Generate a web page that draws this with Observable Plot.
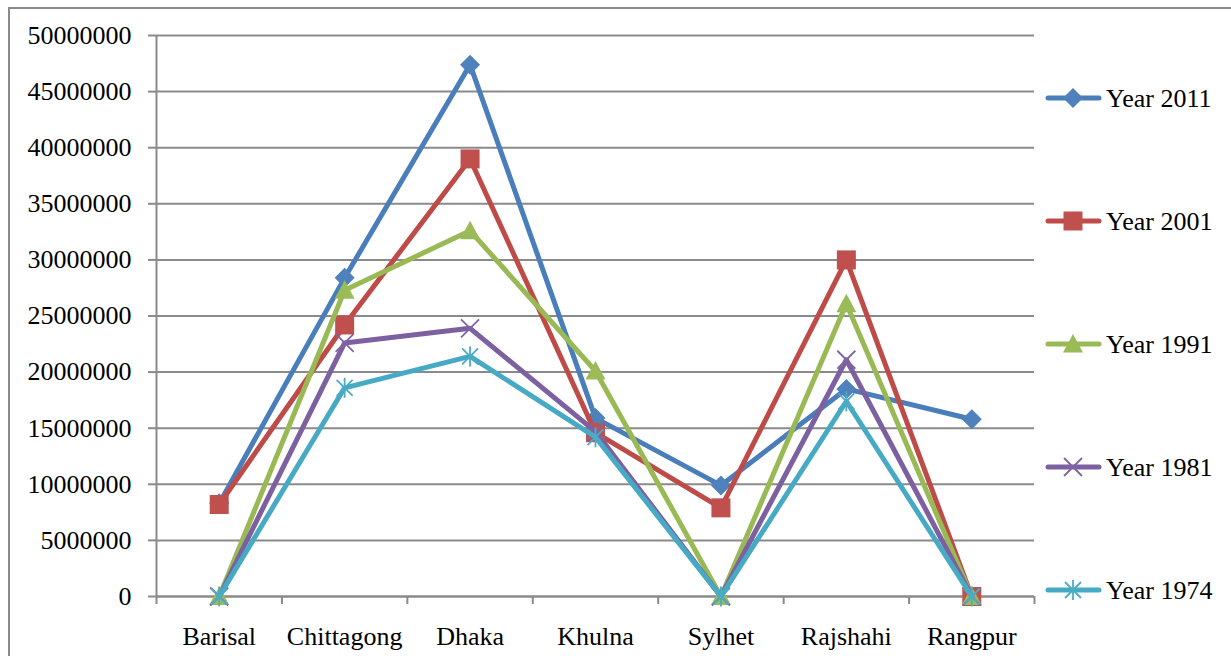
<!DOCTYPE html>
<html>
<head>
<meta charset="utf-8">
<script src="https://cdn.jsdelivr.net/npm/d3@7"></script>
<script src="https://cdn.jsdelivr.net/npm/@observablehq/plot@0.6"></script>
<style>
  html, body { margin: 0; padding: 0; background: #fff; overflow: hidden; }
  #wrap { position: relative; width: 1231px; height: 656px; }
  #frame { position: absolute; left: 8px; top: 7px; width: 1300px; height: 700px;
           border-left: 2px solid #8a8a8a; border-top: 2px solid #8a8a8a; }
  #chart, #legend { position: absolute; left: 0; top: 0; }
  #chart svg, #chart svg text, #legend text { font-family: "Liberation Serif", "Times New Roman", serif !important; font-size: 26px !important; }
</style>
</head>
<body>
<div id="wrap"><div id="frame"></div><div id="chart"></div><svg id="legend" width="1231" height="656"></svg></div>
<script>
// ---- data ----
const categories = ["Barisal", "Chittagong", "Dhaka", "Khulna", "Sylhet", "Rajshahi", "Rangpur"];
const seriesNames = ["Year 2011", "Year 2001", "Year 1991", "Year 1981", "Year 1974"];
const year2011 = [8300000, 28400000, 47400000, 15900000, 9900000, 18500000, 15800000];
const year2001 = [8200000, 24200000, 39000000, 14600000, 7900000, 30000000, 0];
const year1991 = [0, 27300000, 32600000, 20100000, 0, 26100000, 0];
const year1981 = [0, 22600000, 23900000, 14700000, 0, 21100000, 0];
const year1974 = [0, 18600000, 21400000, 14200000, 0, 17400000, 0];
const yTicks = [0, 5000000, 10000000, 15000000, 20000000, 25000000, 30000000, 35000000, 40000000, 45000000, 50000000];

const seriesValues = [year2011, year2001, year1991, year1981, year1974];
const lineColors = ["#4A7EBB", "#BE4B48", "#98B954", "#7D60A0", "#46AAC5"];
const markColors = ["#4F81BD", "#C0504D", "#9BBB59", "#8064A2", "#4BACC6"];

// ---- custom Excel-like symbols ----
const rad = size => Math.sqrt(size / Math.PI);
const symDiamond = {draw(c, s) { const r = rad(s); c.moveTo(0, -r); c.lineTo(r, 0); c.lineTo(0, r); c.lineTo(-r, 0); c.closePath(); }};
const symSquare = {draw(c, s) { const r = rad(s) * 0.95; c.rect(-r, -r, 2 * r, 2 * r); }};
const symTriangle = {draw(c, s) { const r = rad(s); c.moveTo(0, -r); c.lineTo(r, 0.85 * r); c.lineTo(-r, 0.85 * r); c.closePath(); }};
const symTimes = {draw(c, s) { const r = rad(s) * 0.9; c.moveTo(-r, -r); c.lineTo(r, r); c.moveTo(r, -r); c.lineTo(-r, r); }};
const symAsterisk = {draw(c, s) { const r = rad(s); const q = r * 0.8; c.moveTo(-q, -q); c.lineTo(q, q); c.moveTo(q, -q); c.lineTo(-q, q); c.moveTo(0, -r); c.lineTo(0, r); }};
const symbols = [symDiamond, symSquare, symTriangle, symTimes, symAsterisk];
const filled = [true, true, true, false, false];

const rows = seriesNames.map((name, k) => categories.map((c, i) => ({series: name, cat: c, xi: i + 0.5, value: seriesValues[k][i]})));

const seriesMarks = [];
rows.forEach((data, k) => {
  seriesMarks.push(Plot.line(data, {x: "xi", y: "value", stroke: lineColors[k], strokeWidth: 5, strokeLinejoin: "round", strokeLinecap: "round"}));
  seriesMarks.push(Plot.dot(data, filled[k]
    ? {x: "xi", y: "value", symbol: () => symbols[k], r: 10, fill: markColors[k], stroke: "none"}
    : {x: "xi", y: "value", symbol: () => symbols[k], r: 10, fill: "none", stroke: markColors[k], strokeWidth: 1.8}));
});

const boundaryTicks = d3.range(categories.length + 1);
const labelTicks = categories.map((c, i) => i + 0.5);

const chart = Plot.plot({
  width: 1231,
  height: 656,
  marginLeft: 156,
  marginRight: 197,
  marginTop: 35,
  marginBottom: 60,
  style: {fontFamily: "Liberation Serif", fontSize: "26px", background: "transparent", color: "#000"},
  x: {type: "linear", domain: [0, categories.length]},
  y: {domain: [0, 50000000]},
  symbol: {type: "identity"},
  marks: [
    Plot.gridY(yTicks, {stroke: "#8a8a8a", strokeOpacity: 1, strokeWidth: 2}),
    Plot.axisY(yTicks, {tickSize: 8, tickPadding: 17, stroke: "#8a8a8a", strokeWidth: 2, fill: "#000", tickFormat: d => String(d), label: null}),
    Plot.ruleX([0], {stroke: "#8a8a8a", strokeWidth: 2}),
    Plot.ruleY([0], {stroke: "#8a8a8a", strokeWidth: 2}),
    Plot.axisX(boundaryTicks, {tickSize: 8, stroke: "#8a8a8a", strokeWidth: 2, tickFormat: () => "", label: null}),
    Plot.axisX(labelTicks, {tickSize: 0, tickPadding: 30, fill: "#000", tickFormat: d => categories[Math.round(d - 0.5)], label: null}),
    ...seriesMarks
  ]
});
document.getElementById("chart").appendChild(chart);

// ---- legend ----
const legend = d3.select("#legend");
const legendY = [98, 221, 344, 467, 590];
seriesNames.forEach((name, k) => {
  const g = legend.append("g").attr("transform", `translate(0,${legendY[k]})`);
  g.append("line").attr("x1", 1048).attr("x2", 1099).attr("y1", 0).attr("y2", 0)
    .attr("stroke", lineColors[k]).attr("stroke-width", 5).attr("stroke-linecap", "round");
  const path = d3.symbol(symbols[k], 100 * Math.PI)();
  const p = g.append("path").attr("d", path).attr("transform", "translate(1073,0)");
  if (filled[k]) p.attr("fill", markColors[k]);
  else p.attr("fill", "none").attr("stroke", markColors[k]).attr("stroke-width", 1.8);
  g.append("text").attr("x", 1106).attr("dy", "0.34em").text(name).attr("fill", "#000");
});
</script>
</body>
</html>
